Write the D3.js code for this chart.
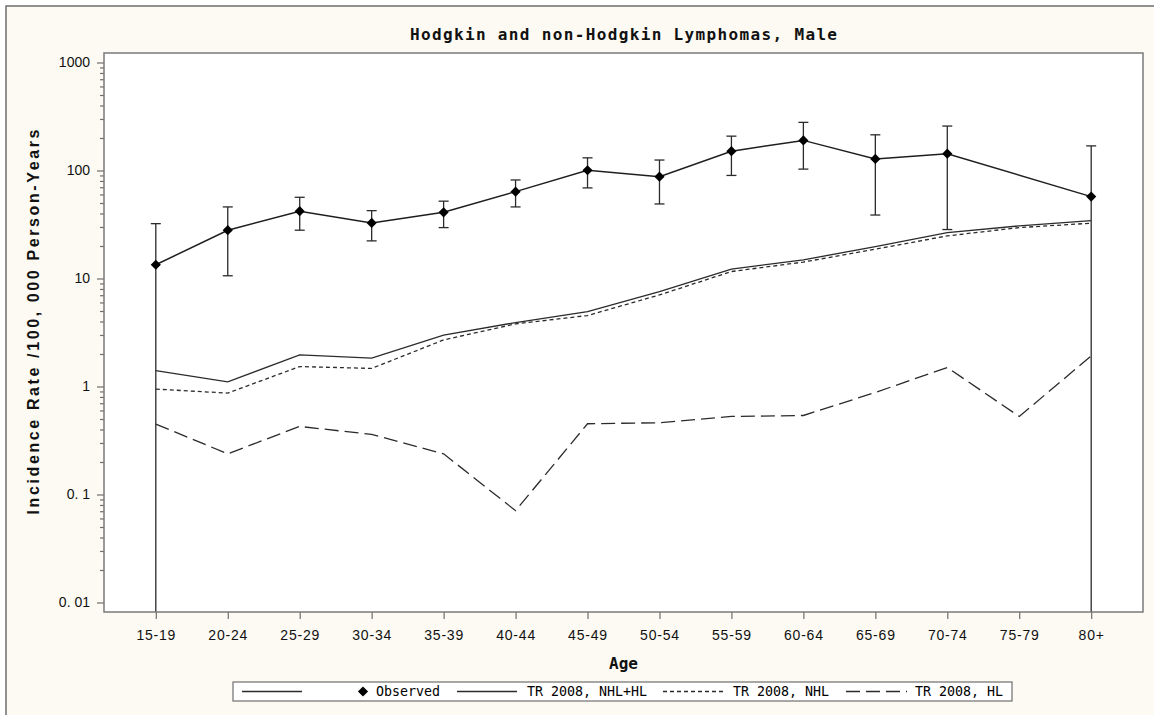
<!DOCTYPE html>
<html>
<head>
<meta charset="utf-8">
<script src="https://cdn.jsdelivr.net/npm/d3@7"></script>
<style>
  html, body { margin: 0; padding: 0; background: #ffffff; }
  svg { display: block; }
</style>
</head>
<body>
<svg id="chart" width="1154" height="715"></svg>
<script>
// Age groups on the x axis
const ageGroups = ["15-19", "20-24", "25-29", "30-34", "35-39", "40-44", "45-49",
                   "50-54", "55-59", "60-64", "65-69", "70-74", "75-79", "80+"];

// Observed incidence per 100,000 person-years with 95% limits (no observation for 75-79)
const observed      = [13.4, 28.0, 42.0, 32.7, 41.0, 63.7, 100.5, 87.7, 151, 190, 128, 143, null, 57.3];
const observedLower = [0,    10.6, 28.0, 22.3, 29.6, 46.0, 69.0,  49.0, 90,  103, 38.7, 28.4, null, 0];
const observedUpper = [32.2, 46.0, 56.5, 42.5, 52.0, 81.7, 131,   125,  208, 279, 214, 258,  null, 169];

// Reference rates (TR 2008)
const trNhlHl = [1.40, 1.105, 1.96, 1.83, 2.99, 3.91, 4.94, 7.56, 12.2, 14.9, 19.7, 26.6, 30.7, 34.3];
const trNhl   = [0.946, 0.869, 1.53, 1.47, 2.70, 3.80, 4.54, 7.05, 11.6, 14.2, 18.7, 24.8, 29.6, 32.5];
const trHl    = [0.449, 0.238, 0.427, 0.36, 0.238, 0.0708, 0.452, 0.462, 0.528, 0.539, 0.88, 1.50, 0.528, 1.92];

// Axis ticks
const yTickValues = [0.01, 0.1, 1, 10, 100, 1000];
const yTickLabels = ["0. 01", "0. 1", "1", "10", "100", "1000"];

const titleText = "Hodgkin and non-Hodgkin Lymphomas, Male";
const xTitle = "Age";
const yTitle = "Incidence Rate /100, 000 Person-Years";
const legendLabels = ["Observed", "TR 2008, NHL+HL", "TR 2008, NHL", "TR 2008, HL"];

// ---------- layout ----------
const W = 1154, H = 715;
const plot = { left: 104, right: 1143, top: 53, bottom: 612 };
const yPad = 9.5;

const svg = d3.select("#chart");

// page background and framing
svg.append("rect").attr("x", 0).attr("y", 0).attr("width", W).attr("height", H).attr("fill", "#ffffff");
svg.append("rect").attr("x", 6).attr("y", 6).attr("width", W + 20).attr("height", H + 20)
  .attr("fill", "#fcfaf3").attr("stroke", "#6e6e6e").attr("stroke-width", 1.5);

// plot panel
svg.append("rect")
  .attr("x", plot.left).attr("y", plot.top)
  .attr("width", plot.right - plot.left).attr("height", plot.bottom - plot.top)
  .attr("fill", "#ffffff");

const x = d3.scalePoint().domain(ageGroups).range([plot.left, plot.right]).padding(0.72);
const y = d3.scaleLog().domain([0.01, 1000]).range([plot.bottom - yPad, plot.top + yPad]);

// ---------- axes ----------
const minorTicks = [];
for (let e = -2; e < 3; e++) for (let m = 2; m <= 9; m++) minorTicks.push(m * Math.pow(10, e));

const yMinor = svg.append("g").attr("transform", `translate(${plot.left},0)`)
  .call(d3.axisLeft(y).tickValues(minorTicks).tickSize(4).tickFormat(""));
const yMajor = svg.append("g").attr("transform", `translate(${plot.left},0)`)
  .call(d3.axisLeft(y).tickValues(yTickValues).tickSize(7).tickPadding(7)
        .tickFormat((d, i) => yTickLabels[i]));
const xAxis = svg.append("g").attr("transform", `translate(0,${plot.bottom})`)
  .call(d3.axisBottom(x).tickSize(7).tickPadding(11));

[yMinor, yMajor, xAxis].forEach(g => {
  g.select(".domain").remove();
  g.selectAll(".tick line").attr("stroke", "#6e6e6e").attr("stroke-width", 1.2);
  g.selectAll("text").attr("fill", "#111").attr("font-family", "'Liberation Sans', Arial, sans-serif");
});
yMajor.selectAll("text").attr("font-size", 14);
xAxis.selectAll("text").attr("font-size", 14).attr("letter-spacing", 0.8);

// ---------- model lines ----------
const lineGen = d3.line()
  .x(d => x(d.age))
  .y(d => y(d.v));

const toPts = arr => arr.map((v, i) => ({ age: ageGroups[i], v })).filter(d => d.v != null && d.v > 0);

const series = [
  { values: trHl,    dash: "14,6" },
  { values: trNhl,   dash: "4,3" },
  { values: trNhlHl, dash: null }
];
series.forEach(s => {
  svg.append("path")
    .attr("d", lineGen(toPts(s.values)))
    .attr("fill", "none")
    .attr("stroke", "#2b2b2b")
    .attr("stroke-width", 1.3)
    .attr("stroke-dasharray", s.dash);
});

// ---------- observed with error bars ----------
const obs = ageGroups.map((a, i) => ({ age: a, v: observed[i], lo: observedLower[i], hi: observedUpper[i] }))
  .filter(d => d.v != null);

const yClamp = v => (v > 0 ? Math.min(y(v), plot.bottom) : plot.bottom);
const capHalf = 5;

const bars = svg.append("g").attr("stroke", "#2b2b2b").attr("stroke-width", 1.3).attr("fill", "none");
obs.forEach(d => {
  const cx = x(d.age);
  const yTop = y(d.hi), yBot = yClamp(d.lo);
  bars.append("line").attr("x1", cx).attr("x2", cx).attr("y1", yTop).attr("y2", yBot);
  bars.append("line").attr("x1", cx - capHalf).attr("x2", cx + capHalf).attr("y1", yTop).attr("y2", yTop);
  if (d.lo > 0) {
    bars.append("line").attr("x1", cx - capHalf).attr("x2", cx + capHalf).attr("y1", yBot).attr("y2", yBot);
  }
});

svg.append("path")
  .attr("d", lineGen(obs))
  .attr("fill", "none")
  .attr("stroke", "#1e1e1e")
  .attr("stroke-width", 1.5);

const diamond = d3.symbol().type(d3.symbolSquare).size(52);
svg.append("g").selectAll("path").data(obs).join("path")
  .attr("d", diamond)
  .attr("transform", d => `translate(${x(d.age)},${y(d.v)}) rotate(45)`)
  .attr("fill", "#000");

// plot border on top
svg.append("rect")
  .attr("x", plot.left).attr("y", plot.top)
  .attr("width", plot.right - plot.left).attr("height", plot.bottom - plot.top)
  .attr("fill", "none").attr("stroke", "#7a7a7a").attr("stroke-width", 1.5);

// ---------- titles ----------
const cx = (plot.left + plot.right) / 2;
svg.append("text")
  .attr("x", cx).attr("y", 40)
  .attr("text-anchor", "middle")
  .attr("font-family", "'DejaVu Sans Mono', monospace")
  .attr("font-weight", "bold")
  .attr("font-size", 16)
  .attr("textLength", 427).attr("lengthAdjust", "spacing")
  .attr("fill", "#111")
  .text(titleText);

svg.append("text")
  .attr("x", cx).attr("y", 669)
  .attr("text-anchor", "middle")
  .attr("font-family", "'DejaVu Sans Mono', monospace")
  .attr("font-weight", "bold")
  .attr("font-size", 16)
  .attr("fill", "#111")
  .text(xTitle);

svg.append("text")
  .attr("transform", `translate(39,${322}) rotate(-90)`)
  .attr("text-anchor", "middle")
  .attr("font-family", "'Liberation Sans', Arial, sans-serif")
  .attr("font-weight", "bold")
  .attr("font-size", 16)
  .attr("textLength", 385).attr("lengthAdjust", "spacing")
  .attr("fill", "#111")
  .text(yTitle);

// ---------- legend ----------
const legend = svg.append("g");
legend.append("rect")
  .attr("x", 233).attr("y", 682).attr("width", 779).attr("height", 19)
  .attr("fill", "#ffffff").attr("stroke", "#6e6e6e").attr("stroke-width", 1.2);

const legY = 691.5;
const legFont = { family: "'DejaVu Sans Mono', monospace", size: 13.3 };
const addSample = (x1, x2, dash) => legend.append("line")
  .attr("x1", x1).attr("x2", x2).attr("y1", legY).attr("y2", legY)
  .attr("stroke", "#2b2b2b").attr("stroke-width", 1.3).attr("stroke-dasharray", dash);
const addLabel = (xPos, txt) => legend.append("text")
  .attr("x", xPos).attr("y", legY).attr("dy", "0.35em")
  .attr("font-family", legFont.family).attr("font-size", legFont.size)
  .attr("fill", "#000").text(txt);

addSample(242, 302, null);
legend.append("path").attr("d", diamond).attr("transform", `translate(363,${legY}) rotate(45)`).attr("fill", "#000");
addLabel(376, legendLabels[0]);
addSample(457, 517, null);
addLabel(527, legendLabels[1]);
addSample(663, 723, "4,3");
addLabel(733, legendLabels[2]);
addSample(846, 907, "14,6");
addLabel(915, legendLabels[3]);
</script>
</body>
</html>
